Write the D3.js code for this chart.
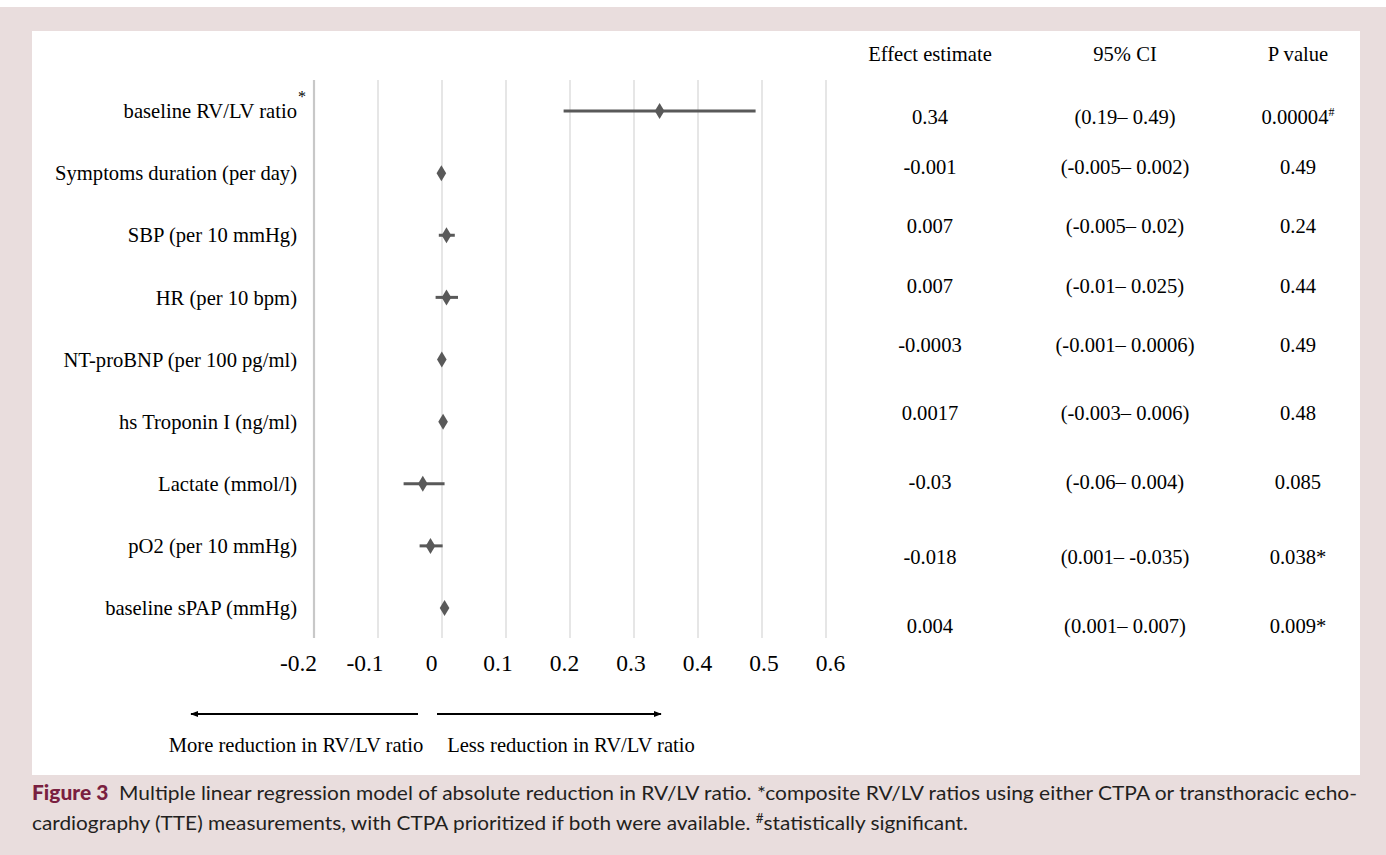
<!DOCTYPE html>
<html>
<head>
<meta charset="utf-8">
<script src="https://cdn.jsdelivr.net/npm/d3@7"></script>
<style>
  html, body { margin: 0; padding: 0; background: #fff; }
  svg { display: block; }
  .serif { font-family: "Liberation Serif", "Times New Roman", serif; fill: #000; }
  .cap { font-family: Lato, "Open Sans", sans-serif; fill: #231f20; }
</style>
</head>
<body>
<div id="chart"></div>
<script>
// chart data
const labels = [
  "baseline RV/LV ratio",
  "Symptoms duration (per day)",
  "SBP (per 10 mmHg)",
  "HR (per 10 bpm)",
  "NT-proBNP (per 100 pg/ml)",
  "hs Troponin I (ng/ml)",
  "Lactate (mmol/l)",
  "pO2 (per 10 mmHg)",
  "baseline sPAP (mmHg)"
];
const estimates = [0.34, -0.001, 0.007, 0.007, -0.0003, 0.0017, -0.03, -0.018, 0.004];
const ciLow = [0.19, -0.005, -0.005, -0.01, -0.001, -0.003, -0.06, -0.035, 0.001];
const ciHigh = [0.49, 0.002, 0.02, 0.025, 0.0006, 0.006, 0.004, 0.001, 0.007];
const xTicks = [-0.2, -0.1, 0, 0.1, 0.2, 0.3, 0.4, 0.5, 0.6];

// table texts
const tableHeaders = ["Effect estimate", "95% CI", "P value"];
const estText = ["0.34", "-0.001", "0.007", "0.007", "-0.0003", "0.0017", "-0.03", "-0.018", "0.004"];
const ciText = ["(0.19\u2013 0.49)", "(-0.005\u2013 0.002)", "(-0.005\u2013 0.02)", "(-0.01\u2013 0.025)",
  "(-0.001\u2013 0.0006)", "(-0.003\u2013 0.006)", "(-0.06\u2013 0.004)", "(0.001\u2013 -0.035)", "(0.001\u2013 0.007)"];
const pText = ["0.00004", "0.49", "0.24", "0.44", "0.49", "0.48", "0.085", "0.038*", "0.009*"];
const pSup = ["#", "", "", "", "", "", "", "", ""];

const W = 1386, H = 855;
const svg = d3.select("#chart").append("svg")
  .attr("width", W).attr("height", H);

// background + white panel
svg.append("rect").attr("x", 0).attr("y", 7).attr("width", W).attr("height", H - 7)
  .attr("fill", "#e9dddd");
svg.append("rect").attr("x", 32).attr("y", 31).attr("width", 1328).attr("height", 744)
  .attr("fill", "#fff");

const x = d3.scaleLinear().domain([-0.2, 0.6]).range([314, 826]);
// the tick labels in the original sit slightly wider than the gridlines
const xLab = d3.scaleLinear().domain([-0.2, 0.6]).range([298, 830]);
const y = d3.scalePoint().domain(labels).range([111, 608]);

const plotTop = 80, plotBottom = 638;
const fs = 20.6;

// gridlines
svg.append("g").selectAll("line")
  .data(xTicks.slice(1))
  .join("line")
  .attr("x1", d => x(d)).attr("x2", d => x(d))
  .attr("y1", plotTop).attr("y2", plotBottom)
  .attr("stroke", "#d9d9d9").attr("stroke-width", 1.3);

// left axis line
svg.append("line")
  .attr("x1", x(-0.2)).attr("x2", x(-0.2))
  .attr("y1", plotTop).attr("y2", plotBottom)
  .attr("stroke", "#c8c8c8").attr("stroke-width", 2.2);

// tick labels
const axis = svg.append("g")
  .attr("transform", "translate(0,654)")
  .call(d3.axisBottom(xLab).tickValues(xTicks).tickSize(0).tickPadding(0)
    .tickFormat(d => d === 0 ? "0" : d3.format(".1f")(d).replace("\u2212", "-")));
axis.select(".domain").remove();
axis.selectAll("text")
  .attr("class", "serif")
  .attr("font-size", 23.5)
  .attr("fill", "#000");

// row labels
svg.append("g").selectAll("text")
  .data(labels)
  .join("text")
  .attr("class", "serif")
  .attr("x", 297)
  .attr("y", d => y(d))
  .attr("dy", "0.35em")
  .attr("text-anchor", "end")
  .attr("font-size", fs)
  .text(d => d);
svg.append("text").attr("class", "serif")
  .attr("x", 298).attr("y", y(labels[0]) - 9)
  .attr("font-size", 16).text("*");

// CIs
const rows = labels.map((l, i) => ({ l, est: estimates[i], lo: ciLow[i], hi: ciHigh[i] }));
svg.append("g").selectAll("line")
  .data(rows)
  .join("line")
  .attr("x1", d => x(d.lo)).attr("x2", d => x(d.hi))
  .attr("y1", d => y(d.l)).attr("y2", d => y(d.l))
  .attr("stroke", "#595959").attr("stroke-width", 3);

// diamonds
svg.append("g").selectAll("path")
  .data(rows)
  .join("path")
  .attr("d", d => {
    const cx = x(d.est), cy = y(d.l);
    return `M${cx},${cy - 8}L${cx + 4.8},${cy}L${cx},${cy + 8}L${cx - 4.8},${cy}Z`;
  })
  .attr("fill", "#595959");

// table
const colX = [930, 1125, 1298];
const tableY = [117, 167, 226, 286, 345, 413, 482, 557, 626];
svg.append("g").selectAll("text")
  .data(tableHeaders)
  .join("text")
  .attr("class", "serif")
  .attr("x", (d, i) => colX[i]).attr("y", 54).attr("dy", "0.35em")
  .attr("text-anchor", "middle").attr("font-size", fs)
  .text(d => d);

const trow = svg.append("g").selectAll("g")
  .data(estText.map((e, i) => ({ e, ci: ciText[i], p: pText[i], sup: pSup[i], ty: tableY[i] })))
  .join("g");
trow.append("text").attr("class", "serif")
  .attr("x", colX[0]).attr("y", d => d.ty).attr("dy", "0.35em")
  .attr("text-anchor", "middle").attr("font-size", fs).text(d => d.e);
trow.append("text").attr("class", "serif")
  .attr("x", colX[1]).attr("y", d => d.ty).attr("dy", "0.35em")
  .attr("text-anchor", "middle").attr("font-size", fs).text(d => d.ci);
const pt = trow.append("text").attr("class", "serif")
  .attr("x", colX[2]).attr("y", d => d.ty).attr("dy", "0.35em")
  .attr("text-anchor", "middle").attr("font-size", fs);
pt.append("tspan").text(d => d.p);
pt.filter(d => d.sup).append("tspan")
  .attr("font-size", 12).attr("dy", "-0.7em").text(d => d.sup);

// direction arrows
const defs = svg.append("defs");
defs.append("marker").attr("id", "ah")
  .attr("viewBox", "0 0 10 10").attr("refX", 9).attr("refY", 5)
  .attr("markerWidth", 4).attr("markerHeight", 4).attr("orient", "auto-start-reverse")
  .append("path").attr("d", "M0,1L10,5L0,9Z").attr("fill", "#000");

svg.append("line")
  .attr("x1", 418).attr("x2", 191).attr("y1", 714).attr("y2", 714)
  .attr("stroke", "#000").attr("stroke-width", 2).attr("marker-end", "url(#ah)");
svg.append("line")
  .attr("x1", 437).attr("x2", 661).attr("y1", 714).attr("y2", 714)
  .attr("stroke", "#000").attr("stroke-width", 2).attr("marker-end", "url(#ah)");

svg.append("text").attr("class", "serif")
  .attr("x", 296).attr("y", 745).attr("dy", "0.35em")
  .attr("text-anchor", "middle").attr("font-size", fs)
  .text("More reduction in RV/LV ratio");
svg.append("text").attr("class", "serif")
  .attr("x", 571).attr("y", 745).attr("dy", "0.35em")
  .attr("text-anchor", "middle").attr("font-size", fs)
  .text("Less reduction in RV/LV ratio");

// caption
const cap1 = svg.append("text").attr("class", "cap")
  .attr("x", 32).attr("y", 800).attr("font-size", 20)
  .attr("textLength", 1325).attr("lengthAdjust", "spacingAndGlyphs");
cap1.append("tspan").attr("fill", "#7a1f40").attr("font-weight", 900).text("Figure 3");
cap1.append("tspan").text("\u00a0\u00a0Multiple linear regression model of absolute reduction in RV/LV ratio. *composite RV/LV ratios using either CTPA or transthoracic echo-");

const cap2 = svg.append("text").attr("class", "cap")
  .attr("x", 32).attr("y", 830).attr("font-size", 20)
  .attr("textLength", 936).attr("lengthAdjust", "spacingAndGlyphs");
cap2.append("tspan").text("cardiography (TTE) measurements, with CTPA prioritized if both were available. ");
cap2.append("tspan").attr("font-size", 13).attr("dy", -7).text("#");
cap2.append("tspan").attr("dy", 7).text("statistically significant.");
</script>
</body>
</html>
